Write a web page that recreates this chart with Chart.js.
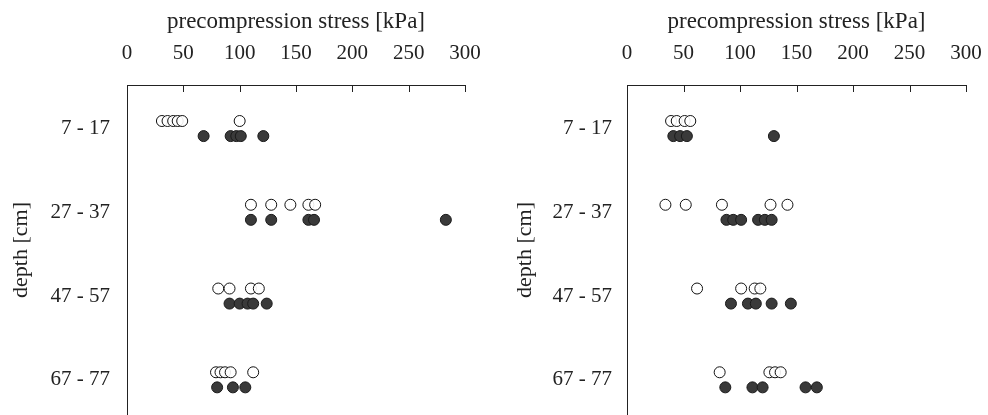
<!DOCTYPE html>
<html>
<head>
<meta charset="utf-8">
<script src="https://cdn.jsdelivr.net/npm/chart.js@4"></script>
<style>
  html, body { margin: 0; padding: 0; background: #fff; }
  #wrap { display: flex; width: 988px; height: 415px; }
  .panel { width: 494px; height: 415px; }
</style>
</head>
<body>
<div id="wrap">
  <div class="panel"><canvas id="left" width="494" height="415"></canvas></div>
  <div class="panel"><canvas id="right" width="494" height="415"></canvas></div>
</div>
<script>
// ---- data ----
const depthLabels = ['7 - 17', '27 - 37', '47 - 57', '67 - 77'];
const stressTicks = [0, 50, 100, 150, 200, 250, 300];

// one inner array per depth row
const leftOpen   = [[31, 36, 41, 45, 49, 100], [110, 128, 145, 161, 167], [81, 91, 110, 117], [79, 83, 87, 92, 112]];
const leftFilled = [[68, 92, 97, 101, 121], [110, 128, 161, 166, 283], [91, 100, 107, 112, 124], [80, 94, 105]];
const rightOpen   = [[39, 44, 51, 56], [34, 52, 84, 127, 142], [62, 101, 113, 118], [82, 126, 131, 136]];
const rightFilled = [[41, 47, 53, 130], [88, 94, 101, 116, 122, 128], [92, 107, 114, 128, 145], [87, 111, 120, 158, 168]];

const SERIF = "'Liberation Serif', 'Times New Roman', serif";

// open circles sit a bit above the row, filled a bit below
function toPoints(rows, shift) {
  const pts = [];
  rows.forEach((vals, i) => vals.forEach(v => pts.push({ x: v, y: i + shift })));
  return pts;
}

// tick marks on the top axis point down into the plot
const inwardTicks = {
  id: 'inwardTicks',
  afterDraw(chart) {
    const { ctx, chartArea } = chart;
    const x = chart.scales.x;
    ctx.save();
    ctx.strokeStyle = '#222';
    ctx.lineWidth = 1;
    ctx.beginPath();
    stressTicks.forEach(v => {
      if (v === 0) return;
      const px = Math.round(x.getPixelForValue(v)) + 0.5;
      ctx.moveTo(px, chartArea.top);
      ctx.lineTo(px, chartArea.top + 7);
    });
    ctx.stroke();
    ctx.restore();
  }
};

function makeChart(id, open, filled, o) {
  return new Chart(document.getElementById(id), {
    type: 'scatter',
    data: {
      datasets: [
        {
          data: toPoints(filled, 0.09),
          pointStyle: 'circle', pointRadius: 5.5,
          backgroundColor: '#3a3a3a', borderColor: '#1a1a1a', borderWidth: 1
        },
        {
          data: toPoints(open, -0.09),
          pointStyle: 'circle', pointRadius: 5.5,
          backgroundColor: 'rgba(255,255,255,0.9)', borderColor: '#111', borderWidth: 1
        }
      ]
    },
    options: {
      responsive: false,
      devicePixelRatio: 1,
      animation: false,
      layout: { autoPadding: false, padding: { left: 0, right: o.rightPad, top: 0, bottom: 0 } },
      plugins: { legend: { display: false }, tooltip: { enabled: false } },
      scales: {
        x: {
          type: 'linear', position: 'top', min: 0, max: 300,
          afterBuildTicks: s => { s.ticks = stressTicks.map(v => ({ value: v })); },
          afterFit: s => { s.height = 85; s.paddingLeft = 0; s.paddingRight = 0; },
          grid: { display: true, drawOnChartArea: false, drawTicks: false },
          border: { display: true, color: '#222', width: 1 },
          ticks: { color: '#222', padding: 19, maxRotation: 0, font: { family: SERIF, size: 21 } },
          title: { display: true, text: 'precompression stress [kPa]', color: '#222',
                   padding: { top: 8, bottom: 0 }, font: { family: SERIF, size: 23 } }
        },
        y: {
          type: 'linear', reverse: true, min: -0.52, max: 3.42,
          afterBuildTicks: s => { s.ticks = depthLabels.map((_, i) => ({ value: i })); },
          afterFit: s => { s.width = o.yWidth; s.paddingTop = 0; s.paddingBottom = 0; },
          grid: { display: false, drawTicks: false },
          border: { display: true, color: '#222', width: 1 },
          ticks: { color: '#222', padding: o.tickPad, font: { family: SERIF, size: 21 },
                   callback: v => depthLabels[v] },
          title: { display: true, text: 'depth [cm]', color: '#222',
                   padding: { top: o.titlePad, bottom: 0 }, font: { family: SERIF, size: 22 } }
        }
      }
    },
    plugins: [inwardTicks]
  });
}

makeChart('left', leftOpen, leftFilled, { yWidth: 127, rightPad: 29, tickPad: 17, titlePad: 8 });
makeChart('right', rightOpen, rightFilled, { yWidth: 133, rightPad: 22, tickPad: 15, titlePad: 18 });
</script>
</body>
</html>
